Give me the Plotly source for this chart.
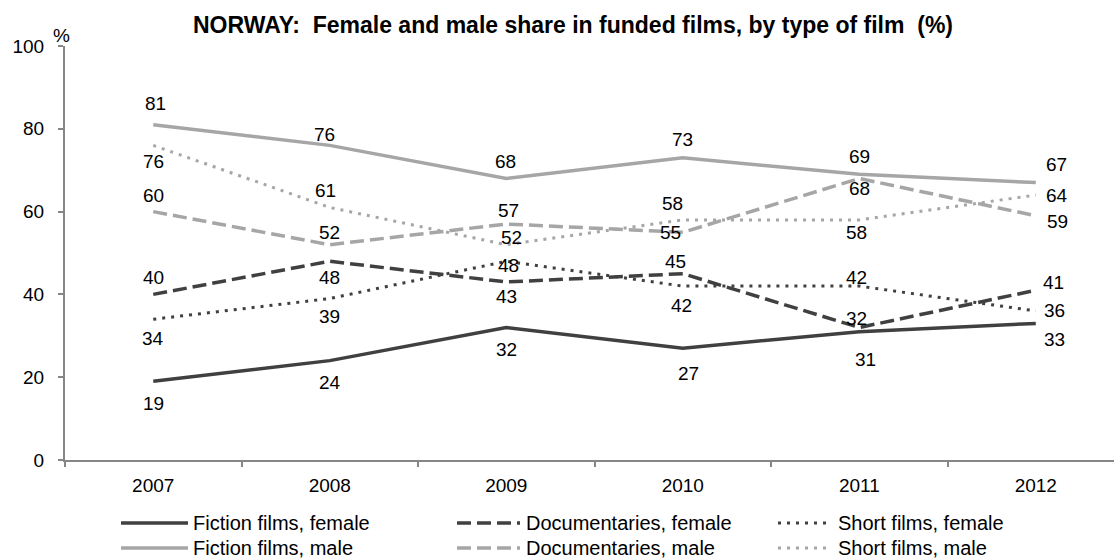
import plotly.graph_objects as go

years = ["2007", "2008", "2009", "2010", "2011", "2012"]
fiction_female = [19, 24, 32, 27, 31, 33]
doc_female = [40, 48, 43, 45, 32, 41]
short_female = [34, 39, 48, 42, 42, 36]
fiction_male = [81, 76, 68, 73, 69, 67]
doc_male = [60, 52, 57, 55, 68, 59]
short_male = [76, 61, 52, 58, 58, 64]
series_names = ["Fiction films, female", "Documentaries, female", "Short films, female",
                "Fiction films, male", "Documentaries, male", "Short films, male"]
series_values = [fiction_female, doc_female, short_female, fiction_male, doc_male, short_male]

DARK = "#404040"
LIGHT = "#a6a6a6"
AXIS = "#868686"
FONT = "Liberation Sans, Arial, sans-serif"
styles = [
    dict(color=DARK, dash="solid", width=3.5),
    dict(color=DARK, dash="14px,6px", width=3.5),
    dict(color=DARK, dash="3px,6px", width=3),
    dict(color=LIGHT, dash="solid", width=3.5),
    dict(color=LIGHT, dash="14px,6px", width=3.5),
    dict(color=LIGHT, dash="3px,6px", width=3),
]
# label offsets in pixels (dx right, dy down)
label_offsets = [
    [(0, 22), (0, 22), (0, 22), (6, 25), (6, 28), (19, 16)],
    [(0, -17), (0, 16), (0, 15), (-7, -12), (-3, -9), (18, -8)],
    [(0, 19), (0, 18), (2, 4), (-1, 19), (-3, -9), (19, 0)],
    [(2, -21), (-5, -11), (-1, -17), (0, -18), (0, -18), (21, -18)],
    [(0, -16), (0, -12), (2, -14), (-12, 0), (0, 10), (22, 6)],
    [(0, 16), (-4, -17), (5, -7), (-10, -16), (-3, 13), (21, 0)],
]

W, H = 1114, 559
ML, MR, MT, MB = 65, 0, 46, 99
PW = W - ML - MR
PH = H - MT - MB

xpos = list(range(len(years)))

fig = go.Figure()
for name, vals, st in zip(series_names, series_values, styles):
    fig.add_trace(go.Scatter(x=xpos, y=vals, mode="lines", name=name,
                             line=dict(color=st["color"], dash=st["dash"], width=st["width"]),
                             showlegend=False, hoverinfo="skip"))

annotations = []
for vals, offs in zip(series_values, label_offsets):
    for xi, v, (dx, dy) in zip(xpos, vals, offs):
        annotations.append(dict(x=xi, y=v, xref="x", yref="y", text=str(v), showarrow=False,
                                xanchor="center", yanchor="middle",
                                xshift=dx, yshift=-dy, font=dict(family=FONT, size=19, color="#000000")))

def px_x(p):
    return (p - ML) / PW

def px_y(p):
    return (H - MB - p) / PH

# title
annotations.append(dict(x=px_x(573), y=px_y(25), xref="paper", yref="paper", showarrow=False,
                        text="<b>NORWAY:  Female and male share in funded films, by type of film  (%)</b>",
                        font=dict(family=FONT, size=23, color="#000000"), xanchor="center", yanchor="middle"))
# percent sign
annotations.append(dict(x=px_x(61), y=px_y(36), xref="paper", yref="paper", showarrow=False,
                        text="%", font=dict(family=FONT, size=19, color="#000000"),
                        xanchor="center", yanchor="middle"))

# custom legend
shapes = []
cols = [(121, 188, 191), (457, 520, 524), (778, 831, 836)]
rows = [523, 548]
for i, (name, st) in enumerate(zip(series_names, styles)):
    r, c = divmod(i, 3)
    x0, x1, xt = cols[c]
    yy = rows[r]
    shapes.append(dict(type="line", xref="paper", yref="paper", x0=px_x(x0), x1=px_x(x1),
                       y0=px_y(yy), y1=px_y(yy),
                       line=dict(color=st["color"], dash=st["dash"], width=st["width"])))
    annotations.append(dict(x=px_x(xt), y=px_y(yy), xref="paper", yref="paper", showarrow=False,
                            text=name, xanchor="left", yanchor="middle",
                            font=dict(family=FONT, size=20, color="#000000")))

fig.update_layout(
    width=W, height=H,
    margin=dict(l=ML, r=MR, t=MT, b=MB, pad=0),
    paper_bgcolor="white", plot_bgcolor="white",
    annotations=annotations, shapes=shapes,
    showlegend=False,
    font=dict(family=FONT, size=19, color="#000000"),
)
boundaries = [i - 0.5 for i in range(len(years) + 1)]
fig.update_xaxes(range=[-0.5, 5.443], tickmode="array", tickvals=xpos, ticktext=years,
                 ticks="", showline=True, linecolor=AXIS, linewidth=2, showgrid=False, zeroline=False,
                 tickfont=dict(family=FONT, size=19, color="#000000"), automargin=False,
                 ticklabelstandoff=7,
                 minor=dict(tickmode="array", tickvals=boundaries, ticks="outside", ticklen=5,
                            tickwidth=1.5, tickcolor=AXIS, showgrid=False))
fig.update_yaxes(range=[0, 100], dtick=20, ticks="outside", ticklen=5, tickwidth=1.5,
                 tickcolor=AXIS, showline=True, linecolor=AXIS, linewidth=2, showgrid=False,
                 zeroline=False, tickfont=dict(family=FONT, size=19, color="#000000"),
                 automargin=False, ticklabelstandoff=10)

fig.write_html("out.html", config={"displayModeBar": False},
               post_script="document.body.style.margin='0';document.body.style.padding='0';")
